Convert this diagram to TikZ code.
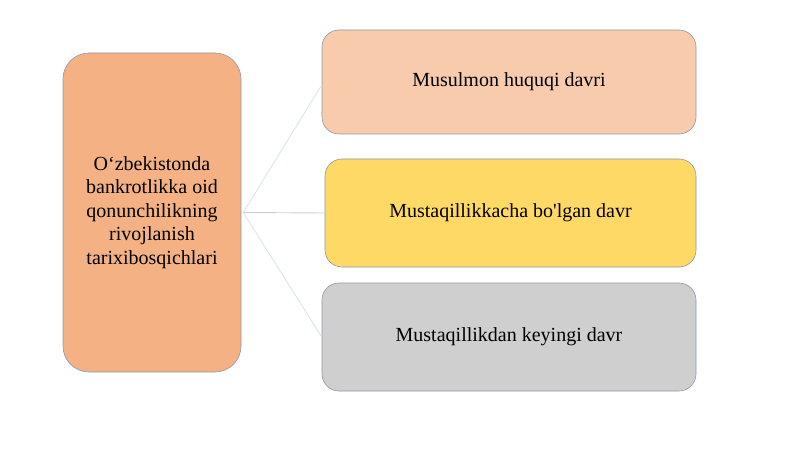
\documentclass[tikz,border=0pt]{standalone}
\usepackage{fontspec}
\setmainfont{Liberation Serif}[Ligatures=TeXOff]
\definecolor{mainfill}{HTML}{F4B183}
\definecolor{onefill}{HTML}{F8CBAD}
\definecolor{twofill}{HTML}{FFD966}
\definecolor{threefill}{HTML}{CFCFCF}
\definecolor{boxline}{HTML}{8C99AC}
\definecolor{linkline}{HTML}{DCE4EC}
\definecolor{midline}{HTML}{C5D0DC}
\begin{document}
\begin{tikzpicture}[x=1pt,y=-1pt,
  box/.style={draw=boxline, line width=0.6pt, rounded corners=17pt, inner sep=0pt,
    font=\fontsize{20}{23.5}\selectfont, align=center},
  link/.style={draw=linkline, line width=0.9pt}]
\useasboundingbox[fill=white] (0,0) rectangle (800,449);
\node[box, fill=mainfill, minimum width=178pt, minimum height=319pt, rounded corners=26pt] (main) at (152,212.5)
  {O‘zbekistonda\\bankrotlikka oid\\qonunchilikning\\rivojlanish\\tarixibosqichlari};
\node[box, fill=onefill, minimum width=374pt, minimum height=104pt] (one) at (509,82) {Musulmon huquqi davri};
\node[box, fill=twofill, minimum width=371pt, minimum height=108pt] (two) at (510.5,213) {Mustaqillikkacha bo'lgan davr};
\node[box, fill=threefill, minimum width=374pt, minimum height=108pt] (three) at (509,337) {Mustaqillikdan keyingi davr};
\coordinate (hub) at ([xshift=2pt]main.east);
\coordinate (oneend) at ([yshift=-3pt]one.west);
\draw[link] (hub) -- (oneend);
\draw[link, draw=midline] (hub) -- (two.west);
\draw[link] (hub) -- (three.west);
\end{tikzpicture}
\end{document}
